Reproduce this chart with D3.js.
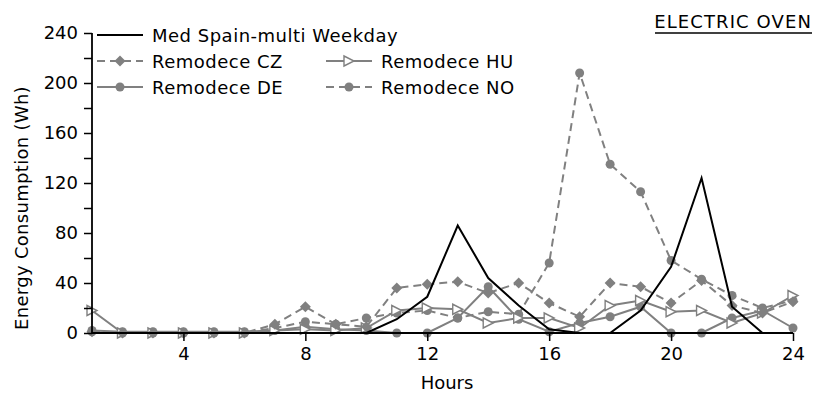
<!DOCTYPE html>
<html>
<head>
<meta charset="utf-8">
<script src="https://cdn.jsdelivr.net/npm/d3@7/dist/d3.min.js"></script>
<style>
  html, body { margin: 0; padding: 0; background: #fff; }
  svg { display: block; font-family: "DejaVu Sans", sans-serif; }
</style>
</head>
<body>
<svg id="chart" width="826" height="396"></svg>
<script>
// Hourly electric oven consumption (Wh), hours 1..24
const hours = d3.range(1, 25);
const medSpain   = [0, 0, 0, 0, 0, 0, 0, 0, 0, 0, 11, 29, 86, 44, 22, 3, 0, 0, 18, 53, 124, 21, 0, 0];
const remodeceCZ = [1, 0, 0, 0, 0, 0, 7, 21, 7, 5, 36, 39, 41, 32, 40, 24, 13, 40, 37, 24, 42, 22, 16, 25];
const remodeceHU = [18, 0, 0, 0, 0, 0, 2, 3, 2, 4, 18, 20, 19, 8, 12, 12, 4, 22, 26, 17, 18, 8, 16, 30];
const remodeceDE = [2, 1, 1, 1, 1, 1, 2, 5, 3, 2, 0, 0, 12, 37, 11, 1, 8, 13, 21, 0, 0, 12, 18, 4];
const remodeceNO = [1, 0, 0, 0, 0, 0, 4, 9, 7, 12, 16, 18, 12, 17, 15, 56, 208, 135, 113, 58, 43, 30, 20, 26];

const xTicks = [4, 8, 12, 16, 20, 24];
const yTicks = [0, 40, 80, 120, 160, 200, 240];
const yMinorTicks = d3.range(0, 241, 20);

const series = [
  { name: "Med Spain-multi Weekday", values: medSpain,   color: "#000", dash: null,  marker: "none" },
  { name: "Remodece CZ",             values: remodeceCZ, color: "#808080", dash: "8,5", marker: "diamond" },
  { name: "Remodece HU",             values: remodeceHU, color: "#808080", dash: null,  marker: "triangle" },
  { name: "Remodece DE",             values: remodeceDE, color: "#808080", dash: null,  marker: "circle" },
  { name: "Remodece NO",             values: remodeceNO, color: "#808080", dash: "8,5", marker: "circle" }
];

const svg = d3.select("#chart");
const x = d3.scaleLinear().domain([1, 24]).range([92, 793]);
const y = d3.scaleLinear().domain([0, 240]).range([333, 33]);

// marker shapes
function drawMarker(g, type, cx, cy, color) {
  if (type === "circle") {
    g.append("circle").attr("cx", cx).attr("cy", cy).attr("r", 4.5).attr("fill", color);
  } else if (type === "diamond") {
    const s = 5.5;
    g.append("path").attr("d", `M${cx},${cy - s}L${cx + s},${cy}L${cx},${cy + s}L${cx - s},${cy}Z`).attr("fill", color);
  } else if (type === "triangle") {
    const s = 5;
    g.append("path").attr("d", `M${cx - s},${cy - s}L${cx + s},${cy}L${cx - s},${cy + s}Z`)
      .attr("fill", "#fff").attr("stroke", color).attr("stroke-width", 1.4);
  }
}

// series lines, drawn back to front
const line = d3.line().x((d, i) => x(hours[i])).y(d => y(d));
const plot = svg.append("g");
[...series].reverse().forEach(s => {
  if (s.marker === "none") return;
  plot.append("path").datum(s.values).attr("d", line).attr("fill", "none")
    .attr("stroke", s.color).attr("stroke-width", 2).attr("stroke-dasharray", s.dash);
  const mg = plot.append("g");
  s.values.forEach((v, i) => drawMarker(mg, s.marker, x(hours[i]), y(v), s.color));
});
plot.append("path").datum(medSpain).attr("d", line).attr("fill", "none")
  .attr("stroke", "#000").attr("stroke-width", 2);

// axes
const xAxis = d3.axisBottom(x).tickValues(xTicks).tickSize(8).tickPadding(6);
const gx = svg.append("g").attr("transform", "translate(0,333)").call(xAxis);
gx.select(".domain").attr("d", `M${x(1)},0H${x(24)}`).attr("stroke-width", 1.8);
gx.selectAll(".tick line").attr("stroke-width", 1.5);
gx.selectAll("text").attr("font-size", 18).attr("font-family", "DejaVu Sans").attr("fill", "#000");

const yAxis = d3.axisLeft(y).tickValues(yMinorTicks).tickSize(8).tickPadding(6)
  .tickFormat(d => yTicks.includes(d) ? d : "");
const gy = svg.append("g").attr("transform", "translate(92,0)").call(yAxis);
gy.select(".domain").attr("d", `M0,${y(0)}V${y(240)}`).attr("stroke-width", 1.8);
gy.selectAll(".tick line").attr("stroke-width", 1.5);
gy.selectAll("text").attr("font-size", 18).attr("font-family", "DejaVu Sans").attr("fill", "#000");

// axis titles
svg.append("text").attr("x", 447).attr("y", 389).attr("text-anchor", "middle")
  .attr("font-size", 18).text("Hours");
svg.append("text").attr("transform", "translate(28,208) rotate(-90)").attr("text-anchor", "middle")
  .attr("font-size", 18).attr("letter-spacing", 0.3).text("Energy Consumption (Wh)");

// chart title, underlined
const title = svg.append("text").attr("x", 812).attr("y", 28).attr("text-anchor", "end")
  .attr("font-size", 18).attr("letter-spacing", 1.1).text("ELECTRIC OVEN");
const tb = title.node().getBBox();
svg.append("line").attr("x1", 655).attr("x2", 812).attr("y1", 33).attr("y2", 33)
  .attr("stroke", "#000").attr("stroke-width", 1.5);

// legend
const legendPos = [
  { col: 0, row: 0 }, { col: 0, row: 1 }, { col: 1, row: 1 }, { col: 0, row: 2 }, { col: 1, row: 2 }
];
const legend = svg.append("g");
series.forEach((s, i) => {
  const p = legendPos[i];
  const lx = p.col === 0 ? 97 : 326;
  const ly = 35 + p.row * 26;
  legend.append("line").attr("x1", lx).attr("x2", lx + 46).attr("y1", ly).attr("y2", ly)
    .attr("stroke", s.color).attr("stroke-width", 2).attr("stroke-dasharray", s.dash);
  drawMarker(legend, s.marker, lx + 23, ly, s.color);
  legend.append("text").attr("x", lx + 55).attr("y", ly + 6.5).attr("font-size", 18)
    .attr("letter-spacing", 0.5).text(s.name);
});
</script>
</body>
</html>
